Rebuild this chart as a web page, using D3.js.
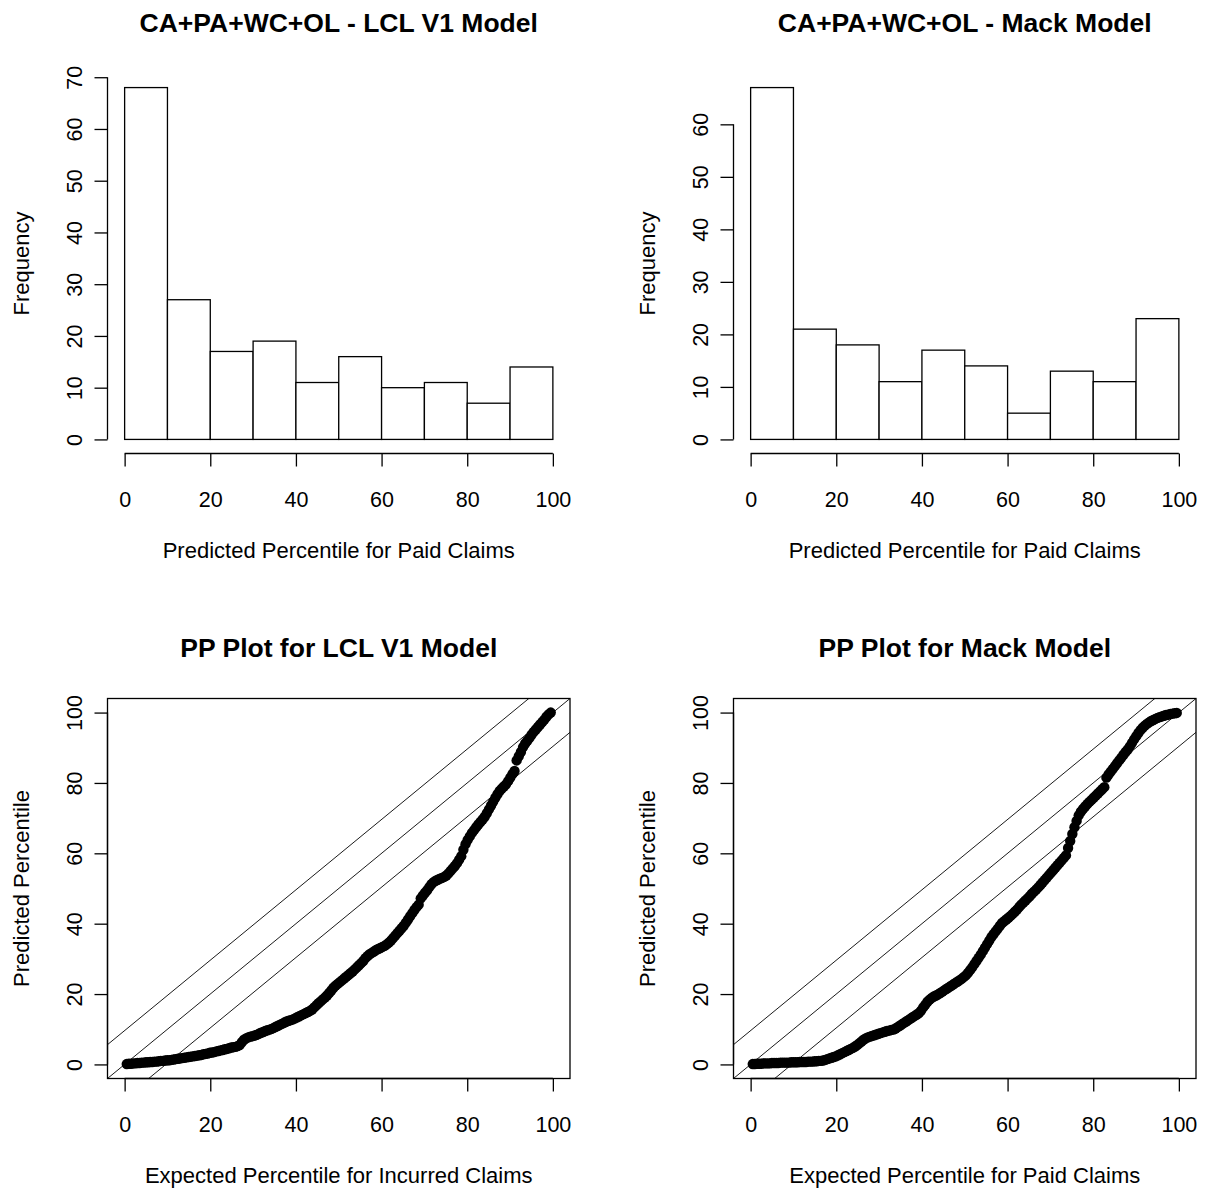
<!DOCTYPE html>
<html><head><meta charset="utf-8">
<script src="https://cdn.jsdelivr.net/npm/d3@7"></script>
<style>
body{margin:0;background:#fff}
svg{display:block}
text{font-family:"Liberation Sans",Arial,Helvetica,sans-serif;fill:#000}
</style>
</head><body>
<svg id="c" width="1206" height="1190"></svg>
<script>
// ---------- data ----------
const binEdges = [0,10,20,30,40,50,60,70,80,90,100];
const lclCounts  = [68,27,17,19,11,16,10,11,7,14];
const mackCounts = [67,21,18,11,17,14,5,13,11,23];
const pctTicks = [0,20,40,60,80,100];
const lclFreqTicks = [0,10,20,30,40,50,60,70];
const mackFreqTicks = [0,10,20,30,40,50,60];
const ksBand = 9.62; // 136/sqrt(200) band drawn around the diagonal
const bandOffsets = [-ksBand, 0, ksBand];

// sorted predicted percentiles (200 each)
const lclPredicted = [
0.1,0.2,0.2,0.3,0.3,0.4,0.4,0.5,0.5,0.6,
0.6,0.7,0.7,0.8,0.8,0.9,1.0,1.0,1.1,1.2,
1.2,1.3,1.4,1.5,1.6,1.7,1.8,1.9,2.0,2.1,
2.2,2.3,2.4,2.5,2.6,2.7,2.9,3.0,3.1,3.3,
3.4,3.5,3.7,3.8,4.0,4.1,4.3,4.4,4.6,4.8,
4.9,5.0,5.2,5.5,6.3,7.0,7.4,7.7,7.9,8.0,
8.2,8.4,8.7,9.0,9.2,9.5,9.7,9.9,
10.1,10.4,10.7,11.0,11.3,11.6,11.9,12.2,12.4,12.6,12.8,13.1,13.4,13.7,14.0,14.3,14.6,14.9,15.2,15.6,16.2,16.8,17.4,17.9,18.5,19.0,19.6,
20.3,21.0,21.8,22.4,22.9,23.4,23.9,24.4,24.9,25.4,25.9,26.4,27.0,27.6,28.2,28.8,29.4,
30.2,30.8,31.3,31.7,32.1,32.5,32.8,33.1,33.4,33.7,34.1,34.6,35.2,35.9,36.6,37.3,38.0,38.7,39.4,
40.3,41.2,42.1,43.0,43.9,44.7,45.4,47.2,48.0,48.8,49.5,
50.4,51.2,51.8,52.2,52.5,52.8,53.0,53.3,53.7,54.3,55.0,55.7,56.4,57.2,58.2,59.2,
61.0,62.6,63.8,64.8,65.8,66.6,67.4,68.2,68.9,69.6,
70.4,71.4,72.5,73.6,74.7,75.8,76.8,77.7,78.4,79.0,79.6,
80.5,81.5,82.5,83.4,86.4,87.6,88.8,
90.2,91.2,92.0,92.8,93.7,94.5,95.2,95.9,96.6,97.3,98.0,98.8,99.5,100.0
];
const mackPredicted = [
0.1,0.1,0.2,0.2,0.2,0.3,0.3,0.3,0.3,0.4,
0.4,0.4,0.4,0.5,0.5,0.5,0.5,0.5,0.6,0.6,
0.6,0.6,0.7,0.7,0.7,0.7,0.8,0.8,0.8,0.9,
0.9,1.0,1.0,1.1,
1.3,1.5,1.7,1.9,2.1,2.3,
2.6,2.9,3.2,3.5,3.8,4.1,4.4,4.7,
5.1,5.5,6.0,6.5,7.0,7.4,
7.7,7.9,8.1,8.3,8.5,8.7,8.9,9.1,9.3,9.5,9.6,9.8,9.9,
10.2,10.6,11.0,11.4,11.8,12.2,12.6,13.0,13.4,13.8,14.2,14.6,15.3,16.2,17.0,17.8,18.4,18.9,19.3,19.6,19.9,
20.3,20.7,21.1,21.5,21.9,22.3,22.7,23.1,23.5,23.9,24.3,24.8,25.3,26.0,26.8,27.6,28.5,29.4,
30.3,31.2,32.2,33.2,34.2,35.2,36.2,37.0,37.8,38.6,39.4,
40.2,40.7,41.2,41.7,42.2,42.8,43.4,44.0,44.7,45.4,46.0,46.6,47.2,47.8,48.5,49.1,49.7,
50.3,51.0,51.7,52.4,53.1,53.8,54.5,55.2,55.9,56.6,57.3,58.0,58.7,59.4,
61.5,63.5,65.5,67.4,69.2,
70.8,71.8,72.6,73.3,74.0,74.6,75.2,75.8,76.4,77.0,77.6,78.2,78.8,
81.5,82.4,83.2,84.0,84.8,85.6,86.4,87.2,88.0,88.8,89.5,
90.4,91.4,92.4,93.3,94.2,95.0,95.7,96.3,96.8,97.2,97.6,97.9,98.2,98.5,98.7,98.9,99.1,99.3,99.4,99.6,99.7,99.8,99.9
];

const histTitles = ["CA+PA+WC+OL - LCL V1 Model","CA+PA+WC+OL - Mack Model"];
const ppTitles = ["PP Plot for LCL V1 Model","PP Plot for Mack Model"];
const histXLabel = "Predicted Percentile for Paid Claims";
const histYLabel = "Frequency";
const ppXLabels = ["Expected Percentile for Incurred Claims","Expected Percentile for Paid Claims"];
const ppYLabel = "Predicted Percentile";

// ---------- layout ----------
const PW = 626, PH = 625;
const R = {l:107.5, r:570, t:73.5, b:453.5};
const TICK = 13, LW = 1.3;
const svg = d3.select("#c");
svg.append("rect").attr("width",1206).attr("height",1190).attr("fill","#fff");

function panel(col,row){
  return svg.append("g").attr("transform",`translate(${col*PW},${row*PH})`);
}

function bottomAxis(g, x, ticks){
  const a = g.append("g").attr("transform",`translate(0,${R.b})`)
    .call(d3.axisBottom(x).tickValues(ticks).tickSize(TICK).tickFormat(d3.format("d")));
  a.select(".domain").remove();
  a.selectAll(".tick line").attr("stroke","#000").attr("stroke-width",LW);
  a.selectAll(".tick text").attr("y",53.5).attr("dy",0).attr("font-size",21.5)
    .attr("font-family",'"Liberation Sans",Arial,sans-serif').attr("fill","#000");
  a.append("line").attr("x1",x(ticks[0])).attr("x2",x(ticks[ticks.length-1]))
    .attr("stroke","#000").attr("stroke-width",LW);
}
function leftAxis(g, y, ticks){
  const a = g.append("g").attr("transform",`translate(${R.l},0)`)
    .call(d3.axisLeft(y).tickValues(ticks).tickSize(TICK).tickFormat(d3.format("d")));
  a.select(".domain").remove();
  a.selectAll(".tick line").attr("stroke","#000").attr("stroke-width",LW);
  a.selectAll(".tick text").attr("x",0).attr("y",-25.5).attr("dy",0)
    .attr("transform","rotate(-90)").attr("text-anchor","middle").attr("font-size",21.5)
    .attr("font-family",'"Liberation Sans",Arial,sans-serif').attr("fill","#000");
  a.append("line").attr("y1",y(ticks[0])).attr("y2",y(ticks[ticks.length-1]))
    .attr("stroke","#000").attr("stroke-width",LW);
}
function labels(g, title, xl, yl){
  const cx = (R.l+R.r)/2, cy = (R.t+R.b)/2;
  g.append("text").attr("x",cx).attr("y",32).attr("text-anchor","middle")
    .attr("font-size",26.5).attr("font-weight","bold").text(title);
  g.append("text").attr("x",cx).attr("y",558).attr("text-anchor","middle")
    .attr("font-size",22).text(xl);
  g.append("text").attr("transform",`translate(29,${cy}) rotate(-90)`).attr("text-anchor","middle")
    .attr("font-size",22).text(yl);
}

function histogram(col, counts, yTicks, title){
  const g = panel(col,0);
  const ymax = d3.max(counts);
  const x = d3.scaleLinear().domain([-4,104]).range([R.l,R.r]);
  const y = d3.scaleLinear().domain([-0.04*ymax, 1.04*ymax]).range([R.b,R.t]);
  const bins = counts.map((c,i)=>({x0:binEdges[i],x1:binEdges[i+1],c}));
  g.selectAll("rect.bar").data(bins).join("rect").attr("class","bar")
    .attr("x",d=>x(d.x0)).attr("width",d=>x(d.x1)-x(d.x0))
    .attr("y",d=>y(d.c)).attr("height",d=>y(0)-y(d.c))
    .attr("fill","#fff").attr("stroke","#000").attr("stroke-width",LW);
  bottomAxis(g,x,pctTicks);
  leftAxis(g,y,yTicks);
  labels(g,title,histXLabel,histYLabel);
}

function ppPlot(col, pred, title, xl){
  const g = panel(col,1);
  const x = d3.scaleLinear().domain([-4,104]).range([R.l,R.r]);
  const y = d3.scaleLinear().domain([-4,104]).range([R.b,R.t]);
  const n = pred.length;
  const pts = pred.map((p,i)=>({e:100*(i+1)/(n+1), p}));
  const clipId = "clip"+col;
  g.append("clipPath").attr("id",clipId).append("rect")
    .attr("x",R.l).attr("y",R.t).attr("width",R.r-R.l).attr("height",R.b-R.t);
  const lines = g.append("g").attr("clip-path",`url(#${clipId})`);
  lines.selectAll("line").data(bandOffsets).join("line")
    .attr("x1",x(-10)).attr("y1",d=>y(-10+d)).attr("x2",x(110)).attr("y2",d=>y(110+d))
    .attr("stroke","#000").attr("stroke-width",0.9);
  g.selectAll("circle").data(pts).join("circle")
    .attr("cx",d=>x(d.e)).attr("cy",d=>y(d.p)).attr("r",5.2).attr("fill","#000");
  g.append("rect").attr("x",R.l).attr("y",R.t).attr("width",R.r-R.l).attr("height",R.b-R.t)
    .attr("fill","none").attr("stroke","#000").attr("stroke-width",LW);
  bottomAxis(g,x,pctTicks);
  leftAxis(g,y,pctTicks);
  labels(g,title,xl,ppYLabel);
}

histogram(0, lclCounts, lclFreqTicks, histTitles[0]);
histogram(1, mackCounts, mackFreqTicks, histTitles[1]);
ppPlot(0, lclPredicted, ppTitles[0], ppXLabels[0]);
ppPlot(1, mackPredicted, ppTitles[1], ppXLabels[1]);
</script>
</body></html>
